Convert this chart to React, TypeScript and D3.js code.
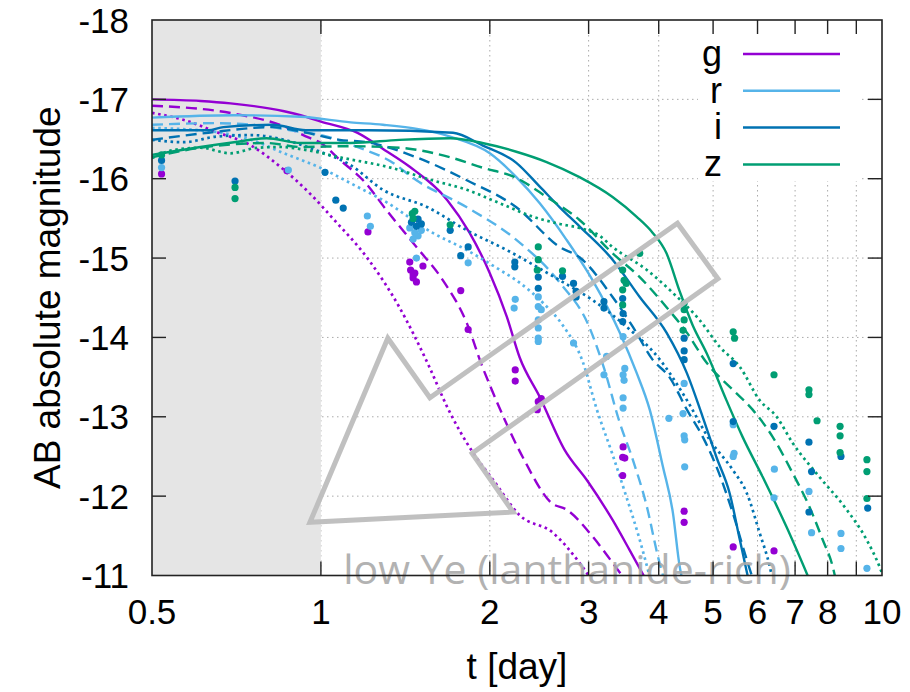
import React from 'react';
import * as d3 from 'd3';

// ---------- data ----------
const bands = ['g', 'r', 'i', 'z'];
const bandColors = ['#9400d3', '#56b4e9', '#0072b2', '#009e73'];
const xTickValues = [0.5, 1, 2, 3, 4, 5, 6, 7, 8, 9, 10];
const xTickLabels = ['0.5', '1', '2', '3', '4', '5', '6', '7', '8', '', '10'];
const yTickValues = [-18, -17, -16, -15, -14, -13, -12, -11];

// model curves [t (day), AB mag]
const gSolid = [[0.5,-17.0],[0.61,-16.98],[0.69,-16.95],[0.86,-16.85],[0.92,-16.8],[1.0,-16.72],[1.16,-16.58],[1.3,-16.36],[1.44,-16.15],[1.68,-15.73],[1.84,-15.32],[2.0,-14.81],[2.145,-14.26],[2.26,-13.75],[2.455,-13.25],[2.72,-12.58],[2.98,-12.2],[3.31,-11.7],[3.55,-11.32],[3.76,-11.0]];
const gDashed = [[0.5,-16.92],[0.7,-16.82],[0.86,-16.66],[0.95,-16.52],[1.0,-16.45],[1.08,-16.24],[1.2,-15.95],[1.31,-15.6],[1.48,-15.14],[1.65,-14.72],[1.82,-14.18],[1.94,-13.63],[2.0,-13.4],[2.29,-12.49],[2.58,-11.91],[2.74,-11.83],[3.05,-11.49],[3.31,-11.16],[3.44,-11.0]];
const gDotted = [[0.5,-16.83],[0.57,-16.74],[0.65,-16.59],[0.75,-16.42],[0.85,-16.14],[0.96,-15.8],[1.05,-15.5],[1.21,-15.0],[1.38,-14.38],[1.56,-13.63],[1.68,-13.12],[1.87,-12.54],[2.03,-12.2],[2.26,-11.76],[2.59,-11.54],[2.89,-11.16],[3.0,-11.0]];
const rSolid = [[0.5,-16.77],[0.7,-16.8],[0.92,-16.78],[1.13,-16.71],[1.29,-16.68],[1.7,-16.53],[2.0,-16.32],[2.23,-16.02],[2.455,-15.69],[2.74,-15.23],[3.05,-14.72],[3.41,-14.06],[3.655,-13.55],[3.855,-13.09],[4.07,-12.37],[4.24,-11.79],[4.36,-11.11],[4.39,-11.0]];
const rDashed = [[0.5,-16.68],[0.65,-16.7],[0.8,-16.66],[0.9,-16.6],[1.0,-16.55],[1.16,-16.4],[1.33,-16.22],[1.48,-15.98],[1.82,-15.64],[2.23,-15.23],[2.665,-14.69],[3.0,-14.15],[3.2,-13.6],[3.4,-12.95],[3.6,-12.45],[3.8,-11.9],[4.0,-11.2],[4.07,-11.0]];
const rDotted = [[0.5,-16.64],[0.65,-16.59],[0.75,-16.49],[0.86,-16.32],[1.01,-16.12],[1.16,-15.9],[1.29,-15.73],[1.58,-15.32],[1.82,-15.1],[2.085,-14.85],[2.25,-14.7],[2.5,-14.42],[2.7,-14.15],[2.93,-13.69],[3.1,-13.1],[3.3,-12.55],[3.5,-12.0],[3.7,-11.45],[3.85,-11.0]];
const iSolid = [[0.5,-16.61],[0.63,-16.61],[0.67,-16.65],[0.82,-16.68],[0.94,-16.61],[1.21,-16.61],[1.72,-16.58],[1.94,-16.42],[2.23,-16.2],[2.455,-15.9],[2.665,-15.64],[2.89,-15.4],[3.31,-14.98],[3.7,-14.51],[4.13,-14.06],[4.49,-13.55],[4.79,-13.0],[5.07,-12.49],[5.35,-12.04],[5.58,-11.45],[5.76,-11.0]];
const iDashed = [[0.5,-16.49],[0.63,-16.58],[0.82,-16.65],[0.94,-16.58],[1.08,-16.49],[1.21,-16.46],[1.48,-16.27],[1.82,-15.98],[2.23,-15.64],[2.665,-15.14],[2.89,-15.01],[3.31,-14.51],[3.6,-14.13],[3.9,-13.72],[4.18,-13.5],[4.49,-13.09],[4.79,-12.75],[5.07,-12.37],[5.42,-11.79],[5.74,-11.2],[5.86,-11.0]];
const iDotted = [[0.5,-16.49],[0.57,-16.46],[0.65,-16.53],[0.75,-16.55],[0.86,-16.49],[0.98,-16.36],[1.13,-16.17],[1.29,-15.86],[1.55,-15.64],[1.82,-15.35],[2.145,-15.1],[2.665,-14.72],[3.05,-14.47],[3.51,-14.13],[4.02,-13.72],[4.49,-13.21],[4.93,-12.71],[5.42,-12.33],[5.74,-12.04],[6.05,-11.54],[6.31,-11.11],[6.36,-11.0]];
const zSolid = [[0.5,-16.3],[0.54,-16.34],[0.61,-16.4],[0.7,-16.46],[0.8,-16.51],[0.92,-16.45],[1.13,-16.45],[1.38,-16.49],[1.7,-16.51],[1.94,-16.45],[2.23,-16.34],[2.525,-16.21],[2.89,-16.02],[3.31,-15.77],[3.655,-15.52],[3.9,-15.32],[4.13,-15.06],[4.36,-14.58],[4.6,-14.15],[4.87,-13.8],[5.28,-13.21],[5.64,-12.75],[6.13,-12.24],[6.76,-11.61],[7.37,-11.0]];
const zDashed = [[0.5,-16.27],[0.61,-16.39],[0.8,-16.45],[0.92,-16.4],[1.13,-16.41],[1.38,-16.39],[1.7,-16.27],[1.94,-16.14],[2.23,-16.01],[2.525,-15.77],[2.89,-15.48],[3.31,-15.06],[3.7,-14.76],[4.13,-14.38],[4.49,-14.06],[4.87,-13.68],[5.42,-13.34],[5.88,-13.09],[6.38,-12.75],[6.93,-12.29],[7.43,-11.86],[7.84,-11.45],[8.17,-11.11],[8.24,-11.0]];
const zDotted = [[0.5,-16.26],[0.545,-16.36],[0.61,-16.39],[0.69,-16.32],[0.77,-16.39],[0.845,-16.4],[0.944,-16.36],[1.08,-16.27],[1.33,-16.14],[1.58,-15.98],[1.82,-15.86],[2.085,-15.69],[2.39,-15.52],[2.665,-15.43],[2.89,-15.38],[3.14,-15.28],[3.31,-15.14],[3.81,-14.85],[4.24,-14.56],[4.73,-14.22],[5.14,-13.88],[5.58,-13.63],[6.05,-13.21],[6.49,-13.0],[6.93,-12.67],[7.74,-12.24],[8.65,-11.83],[9.39,-11.45],[9.9,-11.11],[10,-11.03]];

// observed photometry [t (day), AB mag]
const gObs = [[0.52,-16.06],[0.87,-16.1],[1.213,-15.33],[1.44,-14.95],[1.445,-14.85],[1.47,-14.81],[1.46,-14.75],[1.48,-14.7],[1.52,-14.9],[1.46,-14.79],[1.775,-14.59],[1.83,-14.1],[2.22,-13.59],[2.22,-13.45],[2.44,-13.19],[2.43,-13.09],[2.47,-13.23],[3.456,-12.62],[3.48,-12.48],[3.45,-12.49],[3.45,-12.26],[4.44,-11.81],[4.44,-11.67],[5.43,-11.36],[6.42,-11.31]];
const rObs = [[0.52,-16.14],[0.875,-16.11],[1.21,-15.53],[1.225,-15.4],[1.44,-15.38],[1.47,-15.32],[1.49,-15.28],[1.46,-15.24],[1.51,-15.35],[1.48,-15.0],[1.83,-14.94],[2.22,-14.48],[2.21,-14.37],[2.44,-14.51],[2.44,-14.39],[2.44,-14.22],[2.44,-14.12],[2.44,-13.99],[2.44,-13.95],[2.47,-14.35],[2.82,-13.93],[3.23,-13.76],[3.195,-13.53],[3.456,-14.01],[3.48,-13.61],[3.456,-13.53],[3.47,-13.46],[3.456,-13.24],[3.456,-13.11],[4.44,-13.42],[4.17,-12.98],[4.42,-13.04],[4.44,-12.76],[4.45,-12.71],[4.45,-12.37],[5.43,-12.9],[5.45,-12.54],[5.43,-12.5],[6.43,-12.34],[6.42,-11.98],[7.41,-12.06],[7.49,-11.54],[8.45,-11.53],[8.45,-11.34],[9.4,-11.09]];
const iObs = [[0.52,-16.23],[0.703,-15.97],[1.017,-16.08],[1.063,-15.73],[1.096,-15.63],[1.49,-15.49],[1.51,-15.43],[1.48,-15.4],[1.45,-15.45],[1.7,-15.35],[1.83,-15.14],[1.775,-15.03],[2.216,-14.95],[2.216,-14.89],[2.44,-14.76],[2.44,-14.62],[2.695,-14.77],[2.82,-14.68],[2.85,-14.58],[2.85,-14.51],[3.195,-14.45],[3.195,-14.37],[3.45,-14.49],[3.456,-14.3],[3.45,-14.2],[4.44,-13.99],[4.44,-13.83],[4.44,-13.72],[5.43,-13.67],[5.43,-12.94],[6.42,-12.88],[7.41,-12.68],[7.49,-12.31],[7.41,-11.8],[8.45,-12.5],[9.43,-11.85]];
const zObs = [[0.52,-16.3],[0.703,-15.89],[0.703,-15.75],[1.455,-15.56],[1.46,-15.5],[1.47,-15.59],[1.7,-15.42],[2.44,-15.14],[2.44,-14.98],[2.43,-14.85],[2.695,-14.84],[3.45,-14.85],[3.47,-14.72],[3.5,-14.68],[3.45,-14.6],[3.45,-14.41],[3.7,-15.06],[4.44,-14.43],[4.44,-14.35],[4.44,-14.22],[4.42,-14.09],[5.43,-14.07],[5.46,-13.99],[6.42,-13.53],[7.41,-13.28],[7.41,-13.34],[7.66,-12.95],[8.42,-12.88],[8.42,-12.76],[8.42,-12.55],[9.4,-12.46],[9.4,-12.31],[9.4,-11.97]];

// annotation arrow outline [t, mag]
const arrowOutline = [[0.956,-11.67],[1.316,-13.99],[1.564,-13.24],[4.32,-15.44],[5.1,-14.74],[1.86,-12.54],[2.2,-11.8]];
const annotationText = 'low Ye (lanthanide-rich)';

const models = [
  [gSolid, gDashed, gDotted],
  [rSolid, rDashed, rDotted],
  [iSolid, iDashed, iDotted],
  [zSolid, zDashed, zDotted],
];
const observations = [gObs, rObs, iObs, zObs];

// ---------- layout ----------
const W = 910;
const H = 692;
const L = 152, R = 882, T = 20, B = 575.5;
const FONT = '"Liberation Sans", Arial, Helvetica, sans-serif';
const dashes = [null, '11,6', '2.6,3.6'];

export default function App() {
  const x = d3.scaleLog().domain([0.5, 10]).range([L, R]);
  const y = d3.scaleLinear().domain([-18, -11]).range([T, B]);
  const line = d3.line<number[]>().x(d => x(d[0])).y(d => y(d[1])).curve(d3.curveMonotoneX);
  const tickLen = 14;

  return (
    <svg width={W} height={H} style={{ position: 'absolute', left: 0, top: 0, background: '#fff' }} fontFamily={FONT}>
      <defs>
        <clipPath id="plotClip"><rect x={L} y={T} width={R - L} height={B - T} /></clipPath>
      </defs>
      <rect x={0} y={0} width={W} height={H} fill="#fff" />
      {/* grid */}
      {xTickValues.filter(v => v > 0.5 && v < 10).map(v => (
        <line key={'gx' + v} x1={x(v)} x2={x(v)} y1={T} y2={B} stroke="#aaa" strokeWidth={1} strokeDasharray="1.5,3.5" />
      ))}
      {yTickValues.filter(v => v > -18 && v < -11).map(v => (
        <line key={'gy' + v} x1={L} x2={R} y1={y(v)} y2={y(v)} stroke="#aaa" strokeWidth={1} strokeDasharray="1.5,3.5" />
      ))}
      {/* shaded early-time region */}
      <rect x={x(0.5)} y={T} width={x(1) - x(0.5)} height={B - T} fill="#e5e5e5" />
      {/* legend background */}
      <rect x={698} y={T + 1} width={162} height={160} fill="#fff" />

      <g clipPath="url(#plotClip)">
        {models.map((set, bi) => set.map((data, si) => (
          <path key={bands[bi] + si} d={line(data) || ''} fill="none" stroke={bandColors[bi]}
            strokeWidth={si === 2 ? 2.7 : 2.4} strokeDasharray={dashes[si] || undefined} />
        )))}
        {observations.map((obs, bi) => obs.map((p, k) => (
          <circle key={bands[bi] + 'o' + k} cx={x(p[0])} cy={y(p[1])} r={3.6} fill={bandColors[bi]} />
        )))}
        <polygon points={arrowOutline.map(p => `${x(p[0])},${y(p[1])}`).join(' ')} fill="none"
          stroke="#bdbdbd" strokeWidth={5} strokeLinejoin="miter" opacity={0.95} />
      </g>
      <text x={567} y={584} textAnchor="middle" fontSize={41} fill="#aaaaaa" opacity={0.9}
        fontFamily='"Open Sans", "DejaVu Sans", sans-serif'>{annotationText}</text>

      {/* frame */}
      <rect x={L} y={T} width={R - L} height={B - T} fill="none" stroke="#222" strokeWidth={1.6} />
      {/* ticks */}
      {xTickValues.filter(v => v > 0.5 && v < 10).map(v => (
        <g key={'tx' + v}>
          <line x1={x(v)} x2={x(v)} y1={B} y2={B - tickLen} stroke="#222" strokeWidth={1.4} />
          <line x1={x(v)} x2={x(v)} y1={T} y2={T + tickLen} stroke="#222" strokeWidth={1.4} />
        </g>
      ))}
      {yTickValues.filter(v => v > -18 && v < -11).map(v => (
        <g key={'ty' + v}>
          <line x1={L} x2={L + tickLen} y1={y(v)} y2={y(v)} stroke="#222" strokeWidth={1.4} />
          <line x1={R} x2={R - tickLen} y1={y(v)} y2={y(v)} stroke="#222" strokeWidth={1.4} />
        </g>
      ))}
      {/* tick labels */}
      {xTickValues.map((v, i) => (
        <text key={'lx' + v} x={x(v)} y={624} textAnchor="middle" fontSize={35} fill="#000">{xTickLabels[i]}</text>
      ))}
      {yTickValues.map(v => (
        <text key={'ly' + v} x={129} y={y(v)} dy="0.36em" textAnchor="end" fontSize={35} fill="#000">{String(v)}</text>
      ))}
      {/* axis titles */}
      <text x={(L + R) / 2} y={679} textAnchor="middle" fontSize={37} fill="#000">t [day]</text>
      <text transform={`translate(47,${(T + B) / 2}) rotate(-90)`} textAnchor="middle" dy="0.35em" fontSize={37} fill="#000">AB absolute magnitude</text>

      {/* legend */}
      {bands.map((b, i) => {
        const ly = 54 + i * 36.8;
        return (
          <g key={'leg' + b}>
            <text x={722} y={ly} dy="0.33em" textAnchor="end" fontSize={36} fill="#000">{b}</text>
            <line x1={743} x2={840} y1={ly} y2={ly} stroke={bandColors[i]} strokeWidth={2.5} />
          </g>
        );
      })}
    </svg>
  );
}
